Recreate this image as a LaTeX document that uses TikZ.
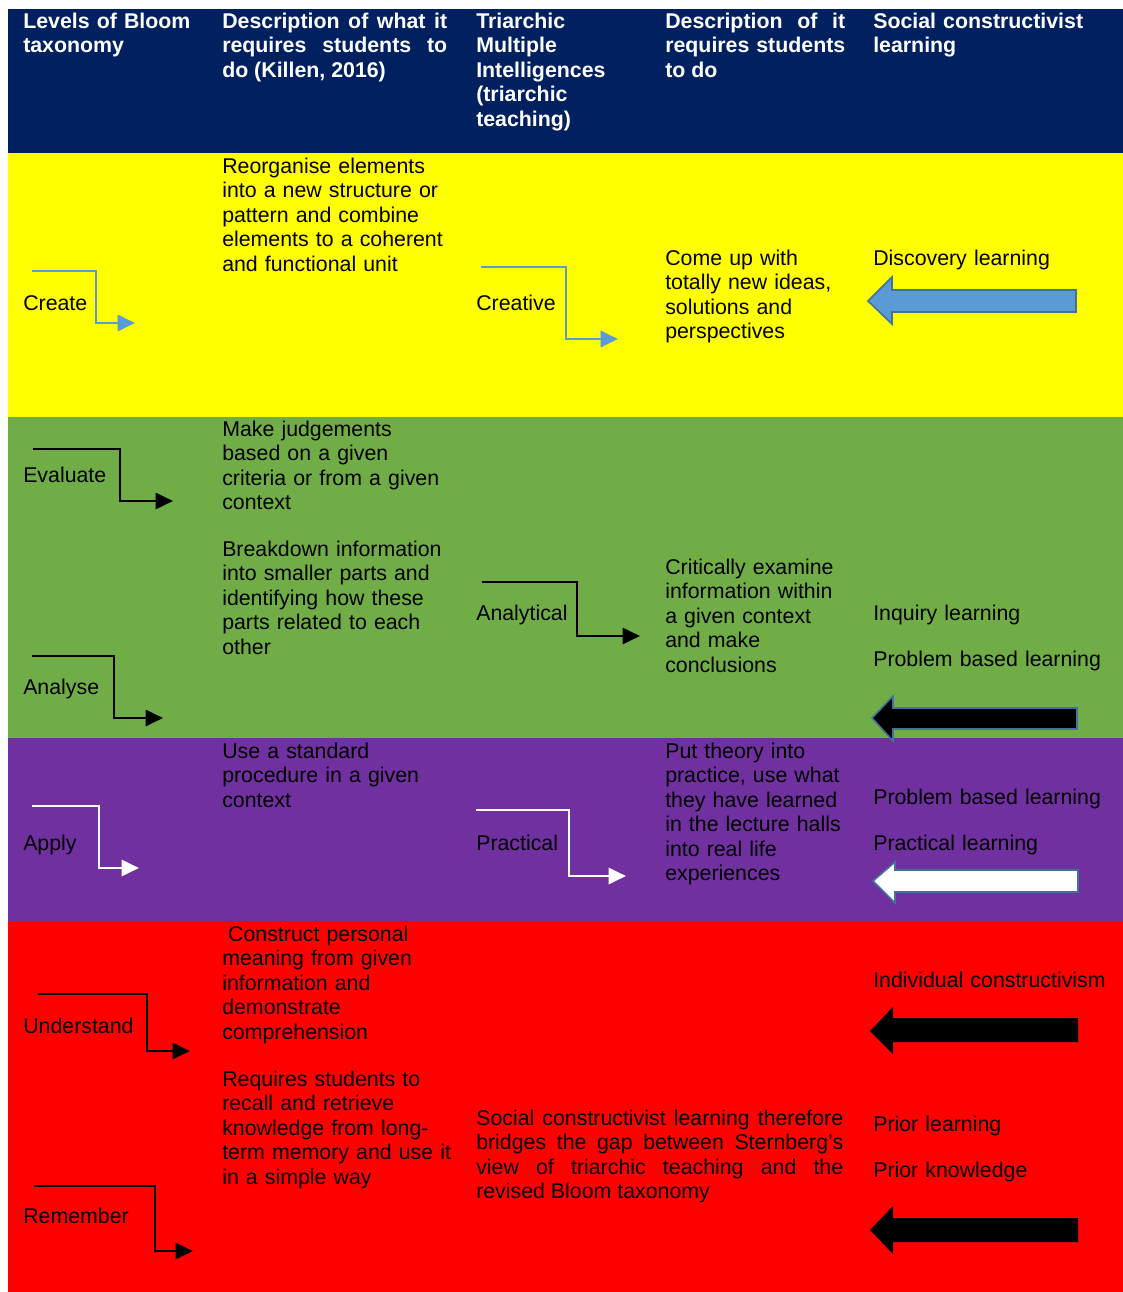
\documentclass[tikz,border=0pt]{standalone}
\usepackage{fontspec}
\setmainfont{Liberation Sans}
\usetikzlibrary{arrows.meta}
\hyphenpenalty=10000
\exhyphenpenalty=10000
\definecolor{navy}{HTML}{002060}
\definecolor{bandyellow}{HTML}{FFFF00}
\definecolor{bandgreen}{HTML}{70AD47}
\definecolor{bandpurple}{HTML}{7030A0}
\definecolor{bandred}{HTML}{FF0000}
\definecolor{skyblue}{HTML}{5B9BD5}
\definecolor{edgeblue}{HTML}{41719C}
\begin{document}
\begin{tikzpicture}[x=0.75pt,y=-0.75pt,
  txt/.style={anchor=base west, inner sep=0pt, text width=#1, align=left,
    font=\fontsize{16pt}{18.4pt}\selectfont},
  txt/.default=190pt,
  jtxt/.style={anchor=base west, inner sep=0pt, text width=#1, align=justify,
    font=\fontsize{16pt}{18.4pt}\selectfont},
  head/.style={txt=#1, text=white, font=\fontsize{16pt}{18.4pt}\selectfont\bfseries},
  head/.default=150pt,
  jhead/.style={jtxt=#1, text=white, font=\fontsize{16pt}{18.4pt}\selectfont\bfseries},
  elbow/.style={line width=2.1pt, -{Triangle[length=13pt,width=12pt]}},
  fat/.style={line width=1.2pt, line join=miter},
]
% page and colour bands
\path[fill=white] (0,0) rectangle (1123,1292);
\useasboundingbox (0,0) rectangle (1123,1292);
\fill[navy] (8,9) rectangle (1123,153);
\fill[bandyellow] (8,153) rectangle (1123,417);
\fill[bandgreen] (8,417) rectangle (1123,738);
\fill[bandpurple] (8,738) rectangle (1123,921);
\fill[bandred] (8,921) rectangle (1123,1292);

% header row
\node[head] (h1) at (23,28) {Levels of Bloom\\taxonomy};
\node[jhead=168.75pt] (h2) at (222,28) {Description of what it\linebreak requires students to\linebreak do (Killen, 2016)};
\node[head] (h3) at (476,28) {Triarchic\\Multiple\\Intelligences\\(triarchic\\teaching)};
\node[jhead=135pt] (h4) at (665,28) {Description of it\linebreak requires students\linebreak to do};
\node[head=180pt] (h5) at (873,28) {Social constructivist\\learning};

% create / creative
\node[txt] (create) at (23,310) {Create};
\node[txt] (createdesc) at (222,173) {Reorganise elements\\into a new structure or\\pattern and combine\\elements to a coherent\\and functional unit};
\node[txt] (creative) at (476,310) {Creative};
\node[txt] (creativedesc) at (665,265) {Come up with\\totally new ideas,\\solutions and\\perspectives};
\node[txt] (discovery) at (873,265) {Discovery learning};
\draw[elbow, skyblue] (32,271) -| (96,323) -- (135,323);
\draw[elbow, skyblue] (481,267) -| (566,339) -- (618,339);
\draw[fat, draw=edgeblue, fill=skyblue] (868,301) -- (892,277) -- (892,290) -- (1076,290)
  -- (1076,312) -- (892,312) -- (892,324) -- cycle;

% evaluate / analyse / analytical
\node[txt] (evaluate) at (23,482) {Evaluate};
\node[txt] (evaluatedesc) at (222,436) {Make judgements\\based on a given\\criteria or from a given\\context};
\node[txt] (analysedesc) at (222,556) {Breakdown information\\into smaller parts and\\identifying how these\\parts related to each\\other};
\node[txt] (analyse) at (23,694) {Analyse};
\node[txt] (analytical) at (476,620) {Analytical};
\node[txt] (analyticaldesc) at (665,574) {Critically examine\\information within\\a given context\\and make\\conclusions};
\node[txt] (inquiry) at (873,620) {Inquiry learning};
\node[txt] (problemA) at (873,666) {Problem based learning};
\draw[elbow, black] (33,449) -| (120,501) -- (173,501);
\draw[elbow, black] (32,656) -| (114,718) -- (163,718);
\draw[elbow, black] (482,582) -| (577,636) -- (640,636);
\draw[fat, draw=edgeblue, fill=black] (872,718) -- (893,696) -- (893,708) -- (1077,708)
  -- (1077,729) -- (893,729) -- (893,741) -- cycle;

% apply / practical
\node[txt] (applydesc) at (222,758) {Use a standard\\procedure in a given\\context};
\node[txt] (apply) at (23,850) {Apply};
\node[txt] (practical) at (476,850) {Practical};
\node[txt] (practicaldesc) at (665,758) {Put theory into\\practice, use what\\they have learned\\in the lecture halls\\into real life\\experiences};
\node[txt] (problemB) at (873,804) {Problem based learning};
\node[txt] (practlearn) at (873,850) {Practical learning};
\draw[elbow, white] (32,806) -| (99,868) -- (139,868);
\draw[elbow, white] (476,810) -| (569,876) -- (626,876);
\draw[fat, draw=edgeblue, fill=white] (873,881) -- (895,862) -- (895,870) -- (1078,870)
  -- (1078,892) -- (895,892) -- (895,903) -- cycle;

% understand / remember
\node[txt] (understanddesc) at (222,941) {\hspace*{0.278em}Construct personal\\meaning from given\\information and\\demonstrate\\comprehension};
\node[txt] (rememberdesc) at (222,1086) {Requires students to\\recall and retrieve\\knowledge from long-\\term memory and use it\\in a simple way};
\node[txt] (understand) at (23,1033) {Understand};
\node[txt] (remember) at (23,1223) {Remember};
\node[jtxt=275.25pt] (bridge) at (476,1125) {Social constructivist learning therefore\linebreak bridges the gap between Sternberg’s\linebreak view of triarchic teaching and the\linebreak revised Bloom taxonomy};
\node[txt] (individual) at (873,987) {Individual constructivism};
\node[txt] (priorlearn) at (873,1131) {Prior learning};
\node[txt] (priorknow) at (873,1177) {Prior knowledge};
\draw[elbow, black] (38,994) -| (147,1051) -- (190,1051);
\draw[elbow, black] (34,1186) -| (155,1251) -- (193,1251);
\fill[black] (870,1031) -- (893,1007) -- (893,1018) -- (1078,1018)
  -- (1078,1042) -- (893,1042) -- (893,1054) -- cycle;
\fill[black] (870,1230) -- (893,1206) -- (893,1218) -- (1078,1218)
  -- (1078,1242) -- (893,1242) -- (893,1254) -- cycle;
\end{tikzpicture}
\end{document}
